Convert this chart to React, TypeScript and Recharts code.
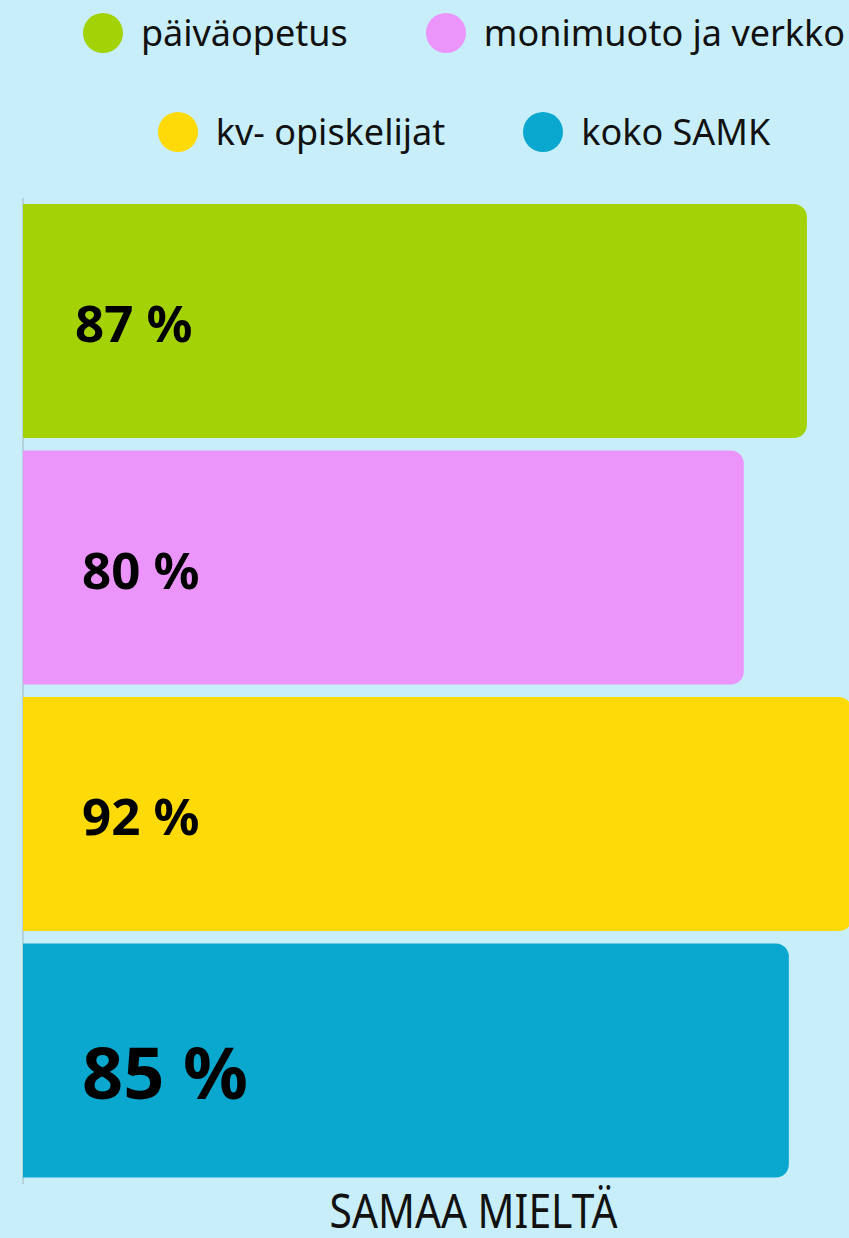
import { BarChart, Bar, Cell, CartesianGrid, XAxis, YAxis, Legend, LabelList, Label } from 'recharts';

const categories = ['päiväopetus', 'monimuoto ja verkko', 'kv- opiskelijat', 'koko SAMK'];
const values = [87, 80, 92, 85];
const colors = ['#a3d206', '#eb95fb', '#fedb08', '#0aa7ce'];
const xTicks = [0, 20, 40, 60, 80, 100];
const axisTitle = 'SAMAA MIELTÄ';
const legendRows = [[0, 1], [2, 3]];

const data = categories.map((name, i) => ({ name, value: values[i] }));

const font = '"Noto Sans", Lato, sans-serif';

const LegendBox = () => (
    <div style={{ position: 'relative', height: 198, fontFamily: font }}>
        {legendRows.map((row, r) => (
            <div key={r} style={{
                position: 'absolute', top: 13 + r * 99, left: 0, right: 0, paddingRight: 19,
                display: 'flex', justifyContent: 'center', alignItems: 'center'
            }}>
                {row.map((idx, j) => (
                    <div key={idx} style={{ display: 'flex', alignItems: 'center', marginLeft: j > 0 ? 78 : 0 }}>
                        <span style={{ width: 40, height: 40, borderRadius: '50%', background: colors[idx], marginRight: 18, display: 'inline-block' }} />
                        <span style={{ fontSize: 36, lineHeight: '40px', color: '#111' }}>{categories[idx]}</span>
                    </div>
                ))}
            </div>
        ))}
    </div>
);

const renderValue = (props: any) => {
    const { x, y, height, value, index } = props;
    const big = index === categories.length - 1;
    return (
        <text x={x + (index === 0 ? 52 : 59)} y={y + height / 2 + (big ? 10 : 1)} dominantBaseline="central"
            fontFamily={font} fontWeight={700} fontSize={big ? 72 : 51} fill="#000">
            {value} %
        </text>
    );
};

const renderAxisTitle = (props: any) => {
    const { viewBox } = props;
    const cx = viewBox.x + viewBox.width / 2;
    return (
        <text x={cx} y={viewBox.y + 44} textAnchor="middle" fontFamily={font} fontSize={47} fill="#111"
            textLength={288} lengthAdjust="spacingAndGlyphs">
            {axisTitle}
        </text>
    );
};

export default function App() {
    return (
        <div style={{ position: 'fixed', left: 0, top: 0, width: 849, height: 1238, overflow: 'hidden', background: '#c8eff9' }}>
            <BarChart width={950} height={1238} data={data} layout="vertical"
                margin={{ top: 0, right: 26, bottom: 0, left: 23 }}>
                <CartesianGrid horizontal={false} stroke="#9db6bf" />
                <XAxis type="number" domain={[0, 100]} ticks={xTicks} tick={false} axisLine={false} tickLine={false} height={54}>
                    <Label content={renderAxisTitle} />
                </XAxis>
                <YAxis type="category" dataKey="name" hide />
                <Legend verticalAlign="top" content={() => <LegendBox />} />
                <Bar dataKey="value" barSize={234} radius={[0, 13, 13, 0]} isAnimationActive={false}>
                    {data.map((d, i) => <Cell key={d.name} fill={colors[i]} />)}
                    <LabelList dataKey="value" content={renderValue} />
                </Bar>
            </BarChart>
        </div>
    );
}
